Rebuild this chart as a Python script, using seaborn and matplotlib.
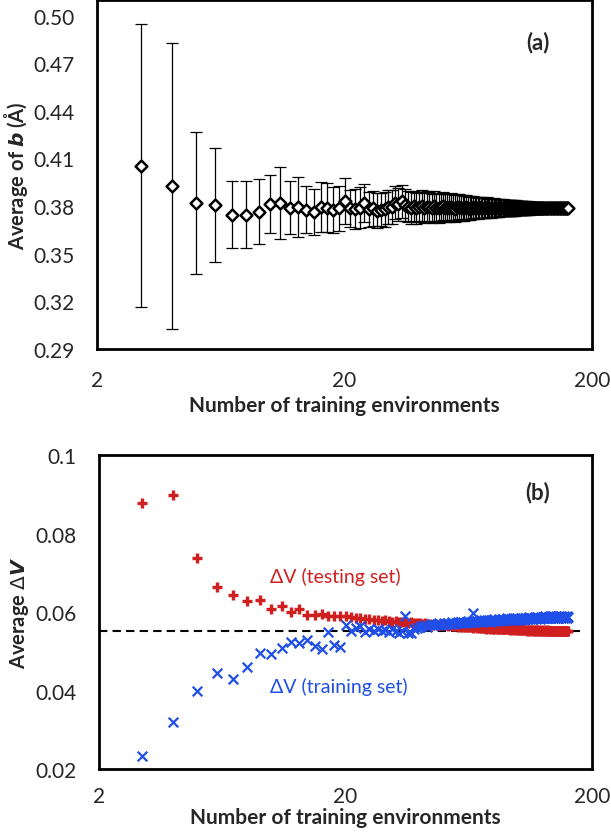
import numpy as np
import pandas as pd
import matplotlib
matplotlib.use("Agg")
import matplotlib.pyplot as plt
import seaborn as sns

# number of training environments (every integer 3..160)
n_env = list(range(3, 161))

# panel (a): average of b and its spread
avg_b = [0.4055, 0.3925, 0.3820, 0.3807, 0.3745, 0.3746, 0.3765, 0.3813,
         0.3820, 0.3790, 0.3795, 0.3778, 0.3762, 0.3795, 0.3790, 0.3775, 0.3785, 0.3832,
         0.3785, 0.3779, 0.3790, 0.3820, 0.3779, 0.3785, 0.3772, 0.3778, 0.3780, 0.3795,
         0.3795, 0.3822, 0.3810, 0.3830,
         0.3805, 0.3795, 0.3790, 0.3800, 0.3785, 0.3795, 0.3802, 0.3788, 0.3797, 0.3792,
         0.3786, 0.3798, 0.3791, 0.3785, 0.3794, 0.3800, 0.3789, 0.3793, 0.3786, 0.3796,
         0.3790, 0.3784, 0.3792, 0.3797, 0.3788, 0.3791, 0.3786, 0.3794, 0.3789, 0.3783,
         0.3791, 0.3795, 0.3787, 0.3790, 0.3785, 0.3792, 0.3788, 0.3791, 0.3786, 0.3789,
         0.3793, 0.3787, 0.3790, 0.3785, 0.3789, 0.3791, 0.3787, 0.3790, 0.3788, 0.3786,
         0.3790, 0.3788, 0.3791, 0.3787, 0.3789, 0.3786, 0.3790, 0.3788, 0.3787, 0.3789,
         0.3788, 0.3786, 0.3789, 0.3787, 0.3790, 0.3788, 0.3786, 0.3788, 0.3787, 0.3789,
         0.3787, 0.3788, 0.3786, 0.3788, 0.3787, 0.3789, 0.3787, 0.3786, 0.3788, 0.3787,
         0.3788, 0.3786, 0.3787, 0.3788, 0.3786, 0.3787, 0.3788, 0.3786, 0.3787, 0.3787,
         0.3786, 0.3788, 0.3787, 0.3786, 0.3787, 0.3788, 0.3786, 0.3787, 0.3786, 0.3787,
         0.3787, 0.3786, 0.3787, 0.3786, 0.3787, 0.3786, 0.3786, 0.3787, 0.3786, 0.3786,
         0.3787, 0.3786, 0.3786, 0.3787, 0.3786, 0.3786, 0.3786, 0.3787, 0.3786, 0.3786,
         0.3786, 0.3786, 0.3786, 0.3786, 0.3786, 0.3786]

err_b = [0.0890, 0.0900, 0.0450, 0.0357, 0.0210, 0.0210, 0.0205, 0.0185,
         0.0225, 0.0165, 0.0190, 0.0150, 0.0144, 0.0158, 0.0153, 0.0145, 0.0139, 0.0147,
         0.0118, 0.0126, 0.0128, 0.0120, 0.0112, 0.0110, 0.0108, 0.0106, 0.0110, 0.0107,
         0.0108, 0.0105, 0.0102, 0.0104,
         0.0100, 0.0098, 0.0101, 0.0097, 0.0099, 0.0096, 0.0097, 0.0095, 0.0096, 0.0094,
         0.0093, 0.0094, 0.0091, 0.0092, 0.0090, 0.0088, 0.0089, 0.0086, 0.0087, 0.0085,
         0.0083, 0.0084, 0.0081, 0.0080, 0.0079, 0.0077, 0.0078, 0.0075, 0.0074, 0.0073,
         0.0072, 0.0071, 0.0070, 0.0068, 0.0068, 0.0066, 0.0065, 0.0065, 0.0063, 0.0062,
         0.0062, 0.0060, 0.0060, 0.0059, 0.0058, 0.0057, 0.0057, 0.0056, 0.0055, 0.0054,
         0.0054, 0.0053, 0.0053, 0.0052, 0.0051, 0.0051, 0.0050, 0.0050, 0.0049, 0.0049,
         0.0048, 0.0048, 0.0047, 0.0047, 0.0046, 0.0046, 0.0045, 0.0045, 0.0044, 0.0044,
         0.0043, 0.0043, 0.0042, 0.0042, 0.0041, 0.0041, 0.0040, 0.0040, 0.0039, 0.0039,
         0.0038, 0.0038, 0.0037, 0.0037, 0.0036, 0.0036, 0.0035, 0.0035, 0.0034, 0.0034,
         0.0033, 0.0033, 0.0032, 0.0032, 0.0031, 0.0031, 0.0030, 0.0030, 0.0029, 0.0028,
         0.0028, 0.0027, 0.0026, 0.0026, 0.0025, 0.0024, 0.0023, 0.0023, 0.0022, 0.0021,
         0.0020, 0.0019, 0.0018, 0.0017, 0.0016, 0.0015, 0.0014, 0.0013, 0.0012, 0.0011,
         0.0009, 0.0008, 0.0006, 0.0004, 0.0002, 0.0000]

# panel (b): average dV for testing / training sets
dv_test = [0.0877, 0.0898, 0.0739, 0.0665, 0.0644, 0.0629, 0.0631, 0.0608,
           0.0616, 0.0600, 0.0608, 0.0593, 0.0593, 0.0595, 0.0590, 0.0591, 0.0589, 0.0590,
           0.0587, 0.0585, 0.0586, 0.0583, 0.0582, 0.0581, 0.0580, 0.0578, 0.0579, 0.0577,
           0.0576, 0.0577, 0.0575, 0.0574, 0.0575, 0.0573, 0.0574, 0.0572, 0.0571, 0.0572,
           0.0570, 0.0571, 0.0569, 0.0570, 0.0568, 0.0569, 0.0567, 0.0568, 0.0566, 0.0567,
           0.0566, 0.0565, 0.0566, 0.0564, 0.0565, 0.0564, 0.0563, 0.0564, 0.0562, 0.0563,
           0.0562, 0.0563, 0.0561, 0.0562, 0.0561, 0.0560, 0.0561, 0.0560, 0.0561, 0.0559,
           0.0560, 0.0559, 0.0560, 0.0558, 0.0559, 0.0560, 0.0558, 0.0559, 0.0557, 0.0558,
           0.0559, 0.0557, 0.0558, 0.0557, 0.0558, 0.0556, 0.0557, 0.0558, 0.0556, 0.0557,
           0.0556, 0.0557, 0.0555, 0.0556, 0.0557, 0.0555, 0.0556, 0.0555, 0.0556, 0.0554,
           0.0555, 0.0556, 0.0554, 0.0555, 0.0554, 0.0556, 0.0554, 0.0555, 0.0553, 0.0554,
           0.0555, 0.0553, 0.0554, 0.0555, 0.0553, 0.0554, 0.0553, 0.0555, 0.0553, 0.0554,
           0.0552, 0.0554, 0.0553, 0.0552, 0.0554, 0.0553, 0.0552, 0.0553, 0.0554, 0.0552,
           0.0553, 0.0552, 0.0554, 0.0552, 0.0553, 0.0552, 0.0553, 0.0551, 0.0553, 0.0552,
           0.0553, 0.0551, 0.0552, 0.0553, 0.0551, 0.0552, 0.0553, 0.0551, 0.0552, 0.0551,
           0.0553, 0.0552, 0.0551, 0.0552, 0.0553, 0.0551, 0.0552, 0.0551, 0.0552, 0.0552]

dv_train = [0.0232, 0.0321, 0.0398, 0.0445, 0.0430, 0.0459, 0.0495, 0.0493,
            0.0508, 0.0525, 0.0521, 0.0530, 0.0513, 0.0507, 0.0549, 0.0517, 0.0511, 0.0567,
            0.0552, 0.0560, 0.0564, 0.0550, 0.0556, 0.0553, 0.0558, 0.0551, 0.0555, 0.0549,
            0.0556, 0.0553, 0.0548, 0.0552, 0.0590, 0.0546, 0.0547, 0.0556, 0.0560, 0.0563,
            0.0565, 0.0568, 0.0563, 0.0567, 0.0570, 0.0566, 0.0569, 0.0572, 0.0567, 0.0571,
            0.0568, 0.0573, 0.0570, 0.0574, 0.0569, 0.0572, 0.0575, 0.0571, 0.0574, 0.0576,
            0.0572, 0.0575, 0.0577, 0.0573, 0.0576, 0.0597, 0.0574, 0.0578, 0.0575, 0.0577,
            0.0580, 0.0576, 0.0579, 0.0577, 0.0581, 0.0578, 0.0576, 0.0580, 0.0578, 0.0582,
            0.0579, 0.0577, 0.0581, 0.0583, 0.0578, 0.0580, 0.0582, 0.0579, 0.0581, 0.0584,
            0.0580, 0.0582, 0.0579, 0.0583, 0.0581, 0.0585, 0.0580, 0.0582, 0.0584, 0.0581,
            0.0583, 0.0580, 0.0584, 0.0582, 0.0586, 0.0581, 0.0583, 0.0585, 0.0582, 0.0584,
            0.0587, 0.0582, 0.0584, 0.0586, 0.0583, 0.0585, 0.0588, 0.0583, 0.0585, 0.0587,
            0.0584, 0.0586, 0.0583, 0.0588, 0.0585, 0.0587, 0.0584, 0.0586, 0.0589, 0.0584,
            0.0586, 0.0588, 0.0585, 0.0587, 0.0590, 0.0585, 0.0587, 0.0589, 0.0586, 0.0588,
            0.0585, 0.0587, 0.0590, 0.0586, 0.0588, 0.0585, 0.0589, 0.0587, 0.0586, 0.0589,
            0.0587, 0.0585, 0.0588, 0.0590, 0.0586, 0.0588, 0.0587, 0.0589, 0.0586, 0.0588]

ref_dv = 0.0553

xticks = [2, 4, 6, 8, 10, 12, 14, 16, 18, 20, 40, 60, 80, 100, 120, 140, 160, 180, 200]
xlabels = ['2', '', '', '', '', '', '', '', '', '20', '', '', '', '', '', '', '', '', '200']
yticks_a = [0.29, 0.32, 0.35, 0.38, 0.41, 0.44, 0.47, 0.50]
yticks_b = [0.02, 0.04, 0.06, 0.08, 0.1]
ylabels_b = ['0.02', '0.04', '0.06', '0.08', '0.1']

red = '#D01F1F'
blue = '#1F4FE8'

sns.set_style('white')
plt.rcParams['font.family'] = ['Lato', 'DejaVu Sans']

df = pd.DataFrame({'n': n_env, 'b': avg_b, 'err': err_b,
                   'test': dv_test, 'train': dv_train})

fig = plt.figure(figsize=(6.11, 8.37), dpi=100)
ax1 = fig.add_axes([0.159, 0.582, 0.810, 0.417])
ax2 = fig.add_axes([0.162, 0.080, 0.807, 0.375])


def style_axis(ax, pad):
    ax.set_xscale('log')
    ax.set_xlim(2, 200)
    ax.set_xticks(xticks)
    ax.set_xticklabels(xlabels)
    ax.xaxis.set_minor_locator(matplotlib.ticker.NullLocator())
    for s in ax.spines.values():
        s.set_linewidth(2.0)
        s.set_color('black')
    ax.tick_params(axis='both', direction='in', length=5, width=1.6,
                   labelsize=15, color='black')
    ax.tick_params(axis='x', pad=pad)
    ax.tick_params(axis='y', pad=16)
    ax.set_xlabel('Number of training environments', fontsize=15,
                  fontweight='bold', labelpad=4)


# panel (a)
ax1.errorbar(df['n'], df['b'], yerr=df['err'], fmt='none', ecolor='black',
             elinewidth=0.9, capsize=4.5, capthick=0.9, zorder=2)
sns.scatterplot(data=df, x='n', y='b', marker='D', s=36, facecolor='white',
                edgecolor='black', linewidth=1.8, ax=ax1, zorder=3)
style_axis(ax1, 15)
ax1.set_ylim(0.29, 0.51)
ax1.set_yticks(yticks_a)
ax1.set_yticklabels([f'{v:.2f}' for v in yticks_a])
ax1.set_ylabel(r'Average of $\mathbfit{b}$ (Å)', fontsize=14.5, fontweight='bold',
               labelpad=3)
ax1.text(0.89, 0.88, '(a)', transform=ax1.transAxes, fontsize=16,
         fontweight='bold', ha='center', va='center')

# panel (b)
ax2.axhline(ref_dv, xmin=0, xmax=0.976, color='black', lw=1.5,
            linestyle=(0, (4, 2.5)), zorder=1)
sns.scatterplot(data=df, x='n', y='test', marker='+', s=55, color=red,
                linewidth=2.4, ax=ax2, zorder=3)
sns.scatterplot(data=df, x='n', y='train', marker='x', s=48, color=blue,
                linewidth=1.6, ax=ax2, zorder=4)
style_axis(ax2, 12)
ax2.xaxis.labelpad = 1
ax2.set_ylim(0.02, 0.1)
ax2.set_yticks(yticks_b)
ax2.set_yticklabels(ylabels_b)
ax2.set_ylabel(r'Average $\Delta\mathbfit{V}$', fontsize=14.5, fontweight='bold',
               labelpad=3)
ax2.text(0.89, 0.885, '(b)', transform=ax2.transAxes, fontsize=16,
         fontweight='bold', ha='center', va='center')
ax2.text(0.347, 0.615, 'ΔV (testing set)', transform=ax2.transAxes,
         fontsize=14, color=red, ha='left', va='center')
ax2.text(0.347, 0.264, 'ΔV (training set)', transform=ax2.transAxes,
         fontsize=14, color=blue, ha='left', va='center')

fig.savefig('out.png', dpi=100)
